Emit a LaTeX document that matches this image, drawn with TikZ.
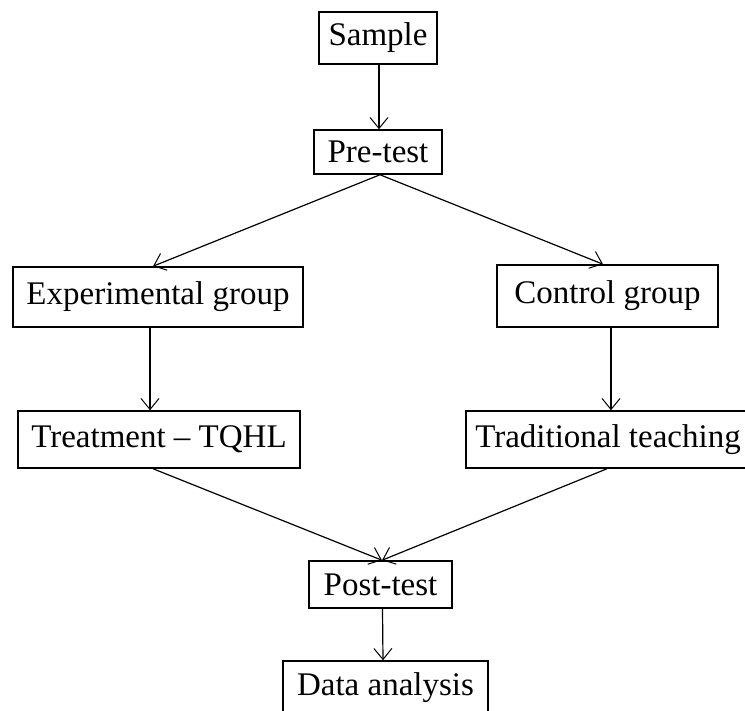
\documentclass[tikz,border=0pt]{standalone}
\usepackage{fontspec}
\setmainfont{Liberation Serif}
\usetikzlibrary{arrows.meta}
\begin{document}
\begin{tikzpicture}[x=1pt,y=-1pt,
  box/.style={draw, line width=1.5pt, inner sep=0pt, align=center,
    font=\fontsize{33}{38}\selectfont},
  conn/.style={line width=1.2pt, -{Straight Barb[length=11pt,width=18pt,line width=1pt]}}]
\useasboundingbox (0,0) rectangle (745,711);
\clip (0,0) rectangle (745,711);
\fill[white] (0,0) rectangle (745,711);
\node[box, minimum width=118pt, minimum height=52pt] (sample) at (378,38) {Sample};
\node[box, minimum width=128pt, minimum height=44pt] (pre) at (378,152) {Pre-test};
\node[box, minimum width=290pt, minimum height=60pt] (exp) at (158,297) {Experimental group};
\node[box, minimum width=221pt, minimum height=62pt] (ctrl) at (607.5,296) {Control group};
\node[box, minimum width=282pt, minimum height=57pt] (treat) at (159,439.5) {Treatment – TQHL};
\node[box, minimum width=284pt, minimum height=57pt] (trad) at (608,439.5) {Traditional teaching};
\node[box, minimum width=143pt, minimum height=47pt] (post) at (380.5,584.5) {Post-test};
\node[box, minimum width=205pt, minimum height=54pt] (data) at (385.5,688) {Data analysis};
\draw[conn] ([xshift=1pt]sample.south) -- ([xshift=1pt]pre.north);
\draw[conn] ([xshift=2pt]pre.south) -- ([xshift=-5pt]exp.north);
\draw[conn] ([xshift=2pt]pre.south) -- ([xshift=-4.5pt]ctrl.north);
\draw[conn] ([xshift=-8pt]exp.south) -- ([xshift=-9pt]treat.north);
\draw[conn] ([xshift=3.5pt]ctrl.south) -- ([xshift=3pt]trad.north);
\draw[conn] ([xshift=-6pt]treat.south) -- ([xshift=1.5pt]post.north);
\draw[conn] ([xshift=-1pt]trad.south) -- ([xshift=1.5pt]post.north);
\draw[conn] ([xshift=2pt]post.south) -- ([xshift=-2.5pt]data.north);
\end{tikzpicture}
\end{document}
